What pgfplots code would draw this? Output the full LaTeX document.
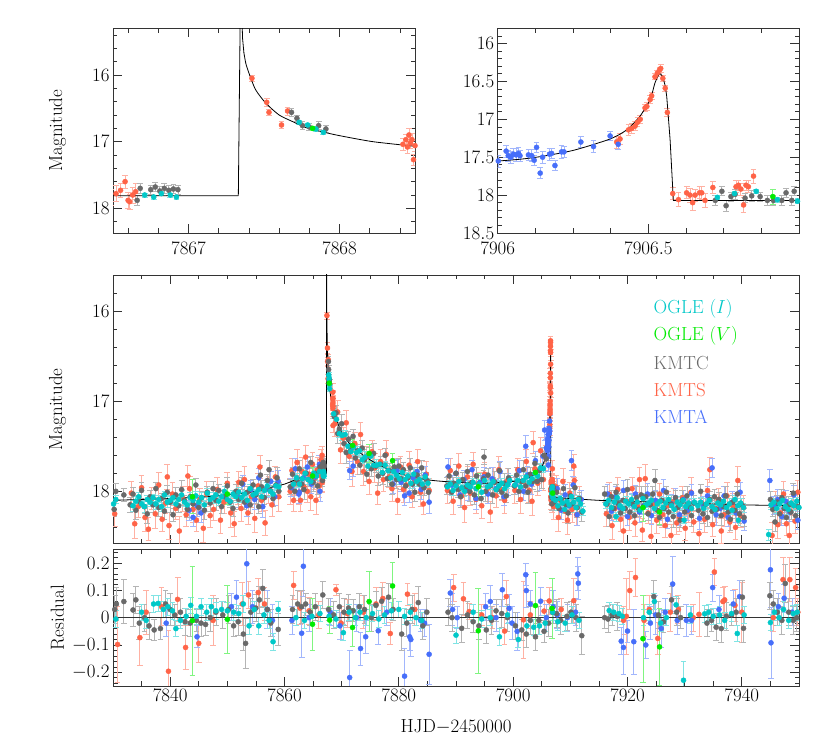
\RequirePackage{fix-cm}
\documentclass[border=0pt]{standalone}
\usepackage{pgfplots}
\usepackage{pgfplotstable}
\pgfplotsset{compat=1.18}

\definecolor{ogleI}{RGB}{0,200,200}
\definecolor{ogleV}{RGB}{0,235,0}
\definecolor{kmtc}{RGB}{105,105,105}
\definecolor{kmts}{RGB}{255,99,71}
\definecolor{kmta}{RGB}{70,110,250}
\colorlet{ebc}{black}

\pgfplotsset{
  lcframe/.style={scale only axis, clip mode=global,
    axis line style={black!80,line width=0.8bp},
    tick style={black!80,line width=0.7bp},
    major tick length=9bp, minor tick length=4.5bp,
    tick align=inside, xtick pos=both, ytick pos=both,
    tick label style={font=\fontsize{19}{22}\selectfont},
    label style={font=\fontsize{19}{22}\selectfont},
    scaled ticks=false, /pgf/number format/1000 sep={}},
  % light error bars: a plain line with a small cap, no nodes
  error bars/draw error bar/.code 2 args={%
    \draw[color=ebc, line width=0.8bp] #1 -- #2 ++(-2.9bp,0) -- ++(5.8bp,0);},
  dat/.style={only marks, mark=*, mark size=2.55bp, color=#1,
    /utils/exec={\colorlet{ebc}{#1!50!white}},
    error bars/y dir=both, error bars/y explicit},
  mdl/.style={black, line width=0.8bp, no markers},
}

% model light curve
\pgfplotstableread{
x y
7830 18.10
7835 18.09
7840 18.08
7845 18.065
7850 18.04
7855 18.00
7858 17.95
7860 17.92
7862 17.87
7863.5 17.83
7865 17.80
7866 17.80
7866.5 17.81
7867.33 17.81
}\mA
\pgfplotstableread{
x y
7867.33 17.81
7867.343 15.0
7867.352 15.0
7867.358 15.45
7867.367 15.67
}\mB
\pgfplotstableread{
x y
7867.367 15.67
7867.38 15.83
7867.40 15.97
7867.444 16.22
7867.511 16.42
7867.6 16.60
7867.7 16.71
7867.778 16.79
7867.9 16.86
7868 16.91
7868.22 17.00
7868.5 17.07
7869 17.19
7870 17.35
7871 17.44
7872 17.51
7874 17.61
7876 17.69
7878 17.75
7880 17.80
7883 17.85
7886 17.88
7890 17.90
7895 17.91
7898 17.90
7900 17.89
7902 17.86
7903 17.84
7904 17.80
7905 17.73
7905.5 17.65
7906 17.55
7906.129 17.50
7906.251 17.41
7906.373 17.26
7906.428 17.14
7906.472 16.96
7906.506 16.74
7906.522 16.52
7906.537 16.40
7906.548 16.44
}\mC
\pgfplotstableread{
x y
7906.548 16.44
7906.556 16.56
7906.561 16.70
7906.572 17.26
7906.583 18.07
}\mD
\pgfplotstableread{
x y
7906.583 18.07
7907 18.07
7910 18.08
7915 18.10
7920 18.11
7925 18.12
7930 18.13
7940 18.15
7950 18.16
}\mE

% KMTC
\pgfplotstableread{
x y e
7830.2 18.20 0.08
7830.5 18.00 0.09
7831.9 18.04 0.07
7833.0 18.15 0.08
7833.5 18.03 0.07
7834.0 18.21 0.10
7834.5 18.11 0.06
7835.0 17.99 0.09
7835.5 18.17 0.08
7836.0 18.25 0.11
7836.5 18.06 0.07
7837.0 18.15 0.08
7837.5 17.97 0.07
7838.0 18.18 0.10
7838.5 18.08 0.06
7839.0 18.22 0.09
7839.5 18.01 0.08
7840.0 18.12 0.11
7840.5 18.26 0.07
7841.0 18.04 0.08
7841.5 18.16 0.07
7842.0 17.98 0.10
7842.5 18.10 0.06
7843.0 18.20 0.09
7843.5 18.06 0.08
7844.0 18.14 0.11
7844.5 17.93 0.07
7845.0 18.18 0.08
7845.5 18.07 0.07
7846.0 18.21 0.10
7846.5 18.01 0.06
7847.0 18.13 0.09
7847.5 17.97 0.08
7848.0 18.10 0.11
7848.5 17.99 0.07
7849.0 18.17 0.08
7849.5 18.06 0.07
7850.0 17.94 0.10
7850.5 18.12 0.06
7851.0 18.19 0.09
7851.5 18.00 0.08
7852.0 18.09 0.11
7852.5 17.91 0.07
7853.0 18.12 0.08
7853.5 18.01 0.07
7854.0 18.15 0.10
7854.5 17.93 0.06
7855.0 18.04 0.09
7855.5 18.17 0.08
7855.8 17.82 0.11
7856.0 17.95 0.07
7856.5 18.07 0.08
7857.0 17.88 0.07
7857.3 17.76 0.10
7857.5 17.99 0.06
7858.0 18.08 0.09
7858.5 17.93 0.08
7858.7 17.85 0.11
7859.0 18.00 0.07
7861.0 17.95 0.08
7861.4 17.81 0.07
7861.8 18.00 0.10
7862.2 17.88 0.06
7862.6 17.75 0.09
7863.0 17.92 0.08
7863.4 17.98 0.11
7863.8 17.80 0.07
7864.2 17.87 0.08
7864.6 17.68 0.07
7865.0 17.90 0.10
7865.4 17.80 0.06
7865.8 17.94 0.09
7866.2 17.73 0.08
7866.66 17.88 0.07
7866.68 17.70 0.07
7866.75 17.72 0.07
7866.78 17.68 0.07
7866.81 17.74 0.07
7866.84 17.70 0.07
7866.87 17.73 0.07
7866.90 17.71 0.07
7866.93 17.72 0.07
7867.682 16.56 0.06
7867.718 16.65 0.05
7867.755 16.76 0.06
7867.800 16.78 0.05
7867.862 16.76 0.06
7867.910 16.81 0.05
7868.7 17.17 0.09
7869.0 17.13 0.08
7869.3 17.36 0.11
7869.6 17.31 0.07
7870.0 17.25 0.10
7870.4 17.47 0.09
7870.8 17.57 0.12
7871.2 17.42 0.08
7871.6 17.54 0.09
7872.0 17.39 0.08
7872.4 17.63 0.11
7872.8 17.55 0.07
7873.2 17.71 0.10
7873.6 17.52 0.09
7874.0 17.65 0.12
7874.4 17.81 0.08
7874.8 17.60 0.09
7875.2 17.75 0.08
7875.6 17.58 0.11
7876.0 17.72 0.07
7876.4 17.83 0.10
7876.8 17.70 0.09
7877.2 17.80 0.12
7877.6 17.60 0.08
7878.0 17.86 0.09
7878.4 17.77 0.08
7878.8 17.92 0.11
7879.2 17.73 0.07
7879.6 17.87 0.10
7880.0 17.72 0.09
7880.4 17.86 0.12
7880.8 17.76 0.08
7881.2 17.94 0.09
7881.6 17.85 0.08
7882.0 17.74 0.11
7882.4 17.92 0.07
7882.8 18.01 0.10
7883.2 17.82 0.09
7883.6 17.92 0.12
7884.0 17.74 0.08
7884.4 17.96 0.09
7884.8 17.87 0.08
7885.2 18.01 0.11
7888.4 17.94 0.09
7888.8 17.83 0.08
7889.2 18.01 0.11
7889.6 17.91 0.07
7890.0 17.80 0.10
7890.4 17.98 0.09
7890.8 18.06 0.12
7891.2 17.87 0.08
7891.6 17.96 0.09
7892.0 17.78 0.08
7892.4 18.00 0.11
7892.8 17.90 0.07
7893.2 18.04 0.10
7893.6 17.83 0.09
7894.0 17.94 0.12
7894.4 18.08 0.08
7894.8 17.86 0.09
7894.9 17.62 0.08
7895.2 18.00 0.11
7895.6 17.82 0.07
7896.0 17.94 0.10
7896.4 18.04 0.09
7896.8 17.90 0.12
7897.2 17.98 0.08
7897.6 17.77 0.09
7898.0 18.01 0.08
7898.4 17.91 0.11
7898.8 18.05 0.07
7899.2 17.85 0.10
7900.2 17.94 0.09
7900.6 17.82 0.08
7901.0 18.00 0.11
7901.4 17.89 0.07
7901.8 17.76 0.10
7902.2 17.94 0.09
7902.6 18.01 0.12
7903.0 17.81 0.08
7903.4 17.89 0.09
7903.8 17.69 0.08
7904.2 17.89 0.11
7904.6 17.77 0.07
7905.0 17.87 0.10
7905.4 17.60 0.09
7905.8 17.64 0.08
7906.722 18.07 0.07
7906.744 17.95 0.06
7906.758 18.14 0.07
7906.774 18.02 0.06
7906.788 17.99 0.07
7906.821 18.04 0.06
7906.843 18.01 0.07
7906.871 18.02 0.06
7906.895 18.07 0.07
7906.915 18.07 0.06
7906.943 18.07 0.07
7906.957 17.97 0.06
7906.976 18.07 0.07
7906.984 17.95 0.06
7907.2 18.12 0.09
7907.6 18.01 0.08
7908.0 18.19 0.11
7908.4 18.09 0.07
7908.8 17.97 0.10
7909.2 18.15 0.09
7909.6 18.24 0.12
7910.0 18.05 0.08
7910.4 18.14 0.09
7910.8 17.96 0.08
7911.2 18.18 0.11
7911.6 18.08 0.07
7912.0 18.23 0.10
7916.0 18.03 0.09
7916.4 18.14 0.08
7916.8 18.28 0.11
7917.2 18.06 0.07
7917.6 18.19 0.10
7918.0 18.01 0.09
7918.4 18.14 0.12
7918.8 18.24 0.08
7919.2 18.10 0.09
7919.6 18.19 0.08
7920.0 17.98 0.11
7920.4 18.23 0.07
7920.8 18.13 0.10
7921.2 18.27 0.09
7921.6 18.07 0.12
7922.0 18.20 0.08
7922.4 18.04 0.09
7922.8 18.17 0.08
7923.2 18.06 0.11
7923.6 18.25 0.07
7924.0 18.15 0.10
7924.4 18.03 0.09
7924.8 17.88 0.12
7925.2 18.21 0.08
7925.6 18.29 0.09
7926.0 18.10 0.08
7926.4 18.19 0.11
7926.8 18.01 0.07
7927.2 18.23 0.10
7927.6 18.14 0.09
7928.0 18.28 0.12
7928.4 18.07 0.08
7928.8 18.18 0.09
7929.2 18.32 0.08
7929.6 18.10 0.11
7930.0 18.23 0.07
7930.4 18.05 0.10
7930.8 18.17 0.09
7931.2 18.27 0.12
7931.6 18.13 0.08
7932.4 18.21 0.09
7932.8 18.00 0.08
7933.2 18.25 0.11
7933.6 18.15 0.07
7934.0 18.29 0.10
7934.4 18.09 0.09
7934.8 18.22 0.12
7935.2 18.06 0.08
7935.6 18.20 0.09
7936.0 18.09 0.08
7936.4 18.27 0.11
7936.8 18.17 0.07
7937.2 18.05 0.10
7937.6 18.23 0.09
7938.0 18.31 0.12
7938.4 18.12 0.08
7938.8 18.21 0.09
7939.2 18.03 0.08
7939.6 18.25 0.11
7940.0 18.15 0.07
7940.4 18.29 0.10
7945.0 18.09 0.09
7945.4 18.20 0.08
7945.8 18.34 0.11
7946.2 18.12 0.07
7946.6 18.25 0.10
7947.0 18.07 0.09
7947.4 18.19 0.12
7947.8 18.29 0.08
7948.2 18.15 0.09
7948.6 18.23 0.08
7949.0 18.02 0.11
7949.4 18.27 0.07
7949.8 18.17 0.10
}\kmtcdat

% KMTS
\pgfplotstableread{
x y e
7830.3 18.25 0.14
7833.2 18.02 0.13
7833.8 18.36 0.16
7834.4 18.17 0.12
7835.0 17.96 0.14
7835.6 18.29 0.15
7836.2 18.42 0.13
7836.8 18.08 0.12
7837.4 18.25 0.16
7838.0 17.93 0.14
7838.6 18.31 0.13
7839.2 18.13 0.12
7839.5 17.84 0.14
7839.8 18.38 0.15
7840.4 18.03 0.13
7841.0 18.19 0.12
7841.6 18.44 0.16
7842.2 18.08 0.14
7842.8 18.26 0.13
7843.1 17.83 0.12
7843.4 17.97 0.14
7844.0 18.20 0.15
7844.6 18.32 0.13
7845.2 18.09 0.12
7845.8 18.41 0.16
7846.4 18.03 0.14
7847.0 18.27 0.13
7847.6 18.20 0.12
7848.2 17.98 0.14
7848.8 18.32 0.15
7849.4 18.12 0.13
7850.0 17.91 0.12
7850.6 18.24 0.16
7851.2 18.36 0.14
7851.8 18.02 0.13
7852.0 17.90 0.12
7852.4 18.19 0.14
7853.0 17.87 0.15
7853.6 18.24 0.13
7854.2 18.06 0.12
7854.8 18.30 0.16
7855.4 17.94 0.14
7855.7 17.73 0.13
7856.0 18.10 0.12
7856.6 18.35 0.14
7857.2 17.98 0.15
7857.8 18.15 0.13
7858.4 17.84 0.12
7859.0 18.06 0.16
7861.0 18.00 0.14
7861.3 17.77 0.13
7861.6 18.10 0.12
7861.9 17.91 0.14
7862.2 17.68 0.15
7862.5 18.01 0.13
7862.8 18.10 0.12
7863.1 17.78 0.16
7863.4 17.95 0.14
7863.7 17.62 0.13
7864.0 18.00 0.12
7864.3 17.81 0.14
7864.6 18.06 0.15
7864.9 17.70 0.13
7865.2 17.86 0.12
7865.5 18.10 0.16
7865.8 17.76 0.14
7866.1 17.94 0.13
7866.4 17.65 0.12
7866.49 17.83 0.12
7866.52 17.78 0.12
7866.55 17.73 0.11
7866.58 17.60 0.10
7866.60 17.88 0.12
7866.61 17.90 0.11
7866.63 17.80 0.12
7866.65 17.75 0.12
7867.420 16.05 0.04
7867.518 16.41 0.06
7867.533 16.56 0.05
7867.616 16.75 0.05
7867.656 16.54 0.06
7868.42 17.04 0.09
7868.44 16.97 0.08
7868.45 17.08 0.09
7868.46 16.90 0.10
7868.47 17.02 0.08
7868.48 16.97 0.09
7868.49 17.27 0.08
7868.50 17.06 0.09
7868.8 17.25 0.14
7869.3 17.12 0.13
7869.8 17.54 0.15
7870.3 17.41 0.12
7870.8 17.24 0.14
7871.3 17.61 0.13
7871.8 17.78 0.16
7872.3 17.47 0.12
7872.8 17.67 0.14
7873.3 17.37 0.13
7873.8 17.78 0.15
7874.3 17.62 0.12
7874.8 17.89 0.14
7875.3 17.56 0.13
7875.8 17.74 0.16
7876.3 18.02 0.12
7876.8 17.67 0.14
7877.3 17.87 0.13
7877.8 17.59 0.15
7878.3 17.84 0.12
7878.8 17.97 0.14
7879.3 17.76 0.13
7879.8 18.10 0.16
7880.3 17.73 0.12
7880.8 17.98 0.14
7881.3 17.93 0.13
7881.8 17.71 0.15
7882.3 18.06 0.12
7882.8 17.88 0.14
7883.3 17.67 0.13
7883.8 18.01 0.16
7884.3 18.14 0.12
7884.8 17.81 0.14
7885.3 17.99 0.13
7888.5 17.99 0.14
7889.0 17.77 0.13
7889.5 18.11 0.15
7890.0 17.93 0.12
7890.5 17.72 0.14
7891.0 18.05 0.13
7891.5 18.18 0.16
7892.0 17.84 0.12
7892.5 18.02 0.14
7893.0 17.70 0.13
7893.5 18.09 0.15
7894.0 17.91 0.12
7894.5 18.16 0.14
7895.0 17.81 0.13
7895.5 17.97 0.16
7896.0 18.23 0.12
7896.5 17.87 0.14
7897.0 18.05 0.13
7897.5 17.76 0.15
7898.0 17.98 0.12
7898.5 18.10 0.14
7899.0 17.88 0.13
7900.3 17.99 0.14
7900.8 17.76 0.13
7901.3 18.09 0.15
7901.8 17.89 0.12
7902.3 17.67 0.14
7902.8 17.99 0.13
7903.3 18.11 0.16
7903.5 17.46 0.12
7903.8 17.75 0.14
7904.3 17.91 0.13
7904.8 17.55 0.15
7905.3 17.87 0.12
7905.7 17.63 0.14
7906.395 17.30 0.08
7906.406 17.26 0.07
7906.434 17.14 0.07
7906.445 17.12 0.06
7906.456 17.09 0.06
7906.464 17.04 0.06
7906.473 17.00 0.05
7906.489 16.85 0.05
7906.495 16.83 0.05
7906.506 16.74 0.05
7906.511 16.69 0.05
7906.522 16.44 0.04
7906.530 16.39 0.04
7906.537 16.35 0.04
7906.541 16.33 0.05
7906.548 16.46 0.04
7906.556 16.59 0.04
7906.563 16.91 0.05
7906.581 17.98 0.08
7906.600 18.06 0.09
7906.627 17.97 0.08
7906.638 18.00 0.09
7906.647 18.10 0.10
7906.655 18.00 0.08
7906.670 17.97 0.08
7906.677 17.97 0.09
7906.688 18.07 0.09
7906.714 17.90 0.08
7906.791 17.89 0.08
7906.799 17.87 0.07
7906.807 17.92 0.08
7906.816 18.13 0.10
7906.824 17.87 0.07
7906.832 17.89 0.08
7906.849 17.75 0.09
7907.1 18.17 0.14
7907.5 17.95 0.13
7907.9 18.29 0.15
7908.3 18.10 0.12
7908.7 17.89 0.14
7909.1 18.22 0.13
7909.5 18.32 0.16
7909.9 18.02 0.12
7910.3 18.20 0.14
7910.6 17.72 0.13
7910.7 17.88 0.15
7911.1 18.26 0.12
7911.5 18.08 0.14
7916.3 18.25 0.14
7916.8 18.03 0.13
7917.3 18.38 0.15
7917.8 18.19 0.12
7918.3 17.98 0.14
7918.8 18.31 0.13
7919.3 18.44 0.16
7919.8 18.11 0.12
7920.3 18.29 0.14
7920.8 17.97 0.13
7921.3 18.35 0.15
7921.8 18.17 0.12
7922.1 17.87 0.14
7922.6 18.43 0.13
7923.1 17.86 0.16
7923.6 18.24 0.12
7924.1 18.50 0.14
7924.6 18.14 0.13
7925.1 18.32 0.15
7925.6 18.03 0.12
7926.1 18.26 0.14
7926.6 18.38 0.13
7927.1 18.16 0.16
7927.6 18.49 0.12
7928.1 18.11 0.14
7928.6 18.35 0.13
7929.1 18.29 0.15
7929.6 18.07 0.12
7930.1 18.41 0.14
7930.6 18.22 0.13
7931.1 18.01 0.16
7931.6 18.34 0.12
7932.5 18.47 0.14
7933.0 18.13 0.13
7933.5 18.31 0.15
7934.0 17.99 0.12
7934.4 17.76 0.14
7934.9 18.37 0.13
7935.4 18.19 0.16
7935.9 18.09 0.12
7936.4 18.44 0.14
7936.9 18.26 0.13
7937.4 18.05 0.15
7937.9 18.34 0.12
7938.4 18.16 0.14
7938.9 18.40 0.13
7939.3 17.88 0.16
7939.8 18.28 0.12
7940.3 18.18 0.14
7945.3 18.49 0.14
7945.8 18.13 0.13
7946.3 18.37 0.15
7946.8 18.24 0.12
7947.3 18.03 0.14
7947.8 18.36 0.13
7948.3 18.49 0.16
7948.8 18.15 0.12
7949.3 18.33 0.14
7949.8 18.01 0.13
}\kmtsdat

% KMTA
\pgfplotstableread{
x y e
7843.3 18.21 0.11
7844.0 18.29 0.10
7844.7 18.16 0.12
7845.4 18.24 0.10
7852.0 18.07 0.11
7852.7 17.92 0.10
7853.4 18.16 0.12
7854.1 17.98 0.10
7854.8 18.09 0.11
7855.5 17.85 0.10
7856.2 18.17 0.12
7856.9 17.97 0.10
7857.6 17.89 0.11
7858.3 18.06 0.10
7858.9 17.89 0.12
7861.2 17.96 0.10
7861.9 17.75 0.11
7862.5 18.03 0.10
7862.6 18.01 0.12
7863.3 17.85 0.10
7864.0 17.73 0.11
7864.7 17.92 0.10
7865.4 17.84 0.12
7866.1 17.70 0.10
7866.2 18.00 0.11
7871.4 17.77 0.10
7872.0 17.72 0.11
7879.0 17.92 0.10
7879.7 17.77 0.12
7880.4 17.90 0.10
7881.0 18.05 0.11
7881.8 18.02 0.10
7882.5 17.85 0.12
7883.2 17.78 0.10
7883.9 17.98 0.11
7884.6 17.82 0.10
7885.3 18.12 0.12
7888.6 17.73 0.10
7889.3 17.93 0.11
7890.0 17.80 0.10
7890.7 18.04 0.12
7891.4 17.87 0.10
7892.1 17.99 0.11
7892.8 17.76 0.10
7893.5 18.08 0.12
7894.2 17.90 0.10
7894.9 17.84 0.11
7895.6 18.03 0.10
7896.3 17.86 0.12
7897.0 17.97 0.10
7897.7 17.78 0.11
7898.4 18.06 0.10
7899.1 17.92 0.12
7900.4 17.93 0.10
7901.1 17.77 0.11
7901.8 18.00 0.10
7902.2 17.50 0.12
7902.5 17.82 0.10
7903.2 17.92 0.11
7903.9 17.66 0.10
7904.6 17.87 0.12
7905.2 17.61 0.10
7905.5 17.32 0.11
7905.8 17.52 0.10
7906.002 17.55 0.08
7906.028 17.42 0.08
7906.035 17.48 0.07
7906.043 17.50 0.08
7906.052 17.46 0.07
7906.061 17.47 0.08
7906.069 17.45 0.08
7906.074 17.48 0.07
7906.102 17.47 0.07
7906.113 17.48 0.08
7906.121 17.54 0.07
7906.129 17.37 0.07
7906.141 17.71 0.07
7906.149 17.50 0.08
7906.172 17.46 0.08
7906.179 17.45 0.07
7906.190 17.61 0.07
7906.212 17.43 0.08
7906.220 17.43 0.07
7906.276 17.30 0.07
7906.318 17.36 0.08
7906.373 17.22 0.06
7906.400 17.33 0.07
7907.1 18.11 0.10
7907.7 17.97 0.11
7908.4 18.21 0.10
7909.1 18.04 0.12
7909.8 18.16 0.10
7910.2 17.66 0.11
7910.5 17.93 0.10
7911.2 18.26 0.12
7911.9 18.09 0.10
7916.5 18.03 0.11
7917.2 18.22 0.10
7917.9 18.06 0.12
7918.6 18.18 0.10
7919.3 17.99 0.11
7920.0 18.28 0.10
7920.7 18.14 0.12
7921.4 18.03 0.10
7922.1 18.23 0.11
7922.8 18.16 0.10
7923.5 18.03 0.12
7924.2 18.27 0.10
7924.9 18.10 0.11
7925.6 18.22 0.10
7926.3 17.99 0.12
7927.0 18.31 0.10
7927.7 18.14 0.11
7928.4 18.07 0.10
7929.1 18.26 0.12
7929.8 18.09 0.10
7930.5 18.21 0.11
7931.2 18.02 0.10
7932.6 18.30 0.12
7933.3 18.16 0.10
7934.0 18.05 0.11
7934.8 17.74 0.10
7935.5 18.26 0.12
7936.2 18.19 0.10
7936.9 18.05 0.11
7937.6 18.29 0.10
7938.3 18.12 0.12
7939.0 18.24 0.10
7939.7 18.01 0.11
7940.4 18.33 0.10
7944.9 17.88 0.12
7945.6 18.16 0.10
7946.3 18.09 0.11
7947.0 18.28 0.10
7947.7 18.11 0.12
7948.4 18.23 0.10
7949.1 18.04 0.11
7949.8 18.32 0.10
}\kmtadat

% OGLE I
\pgfplotstableread{
x y e
7830.1 18.14 0.05
7830.5 18.09 0.04
7833.5 18.16 0.06
7834.0 18.11 0.05
7834.5 18.06 0.05
7835.0 18.14 0.04
7835.5 18.17 0.06
7836.0 18.09 0.05
7836.5 18.12 0.05
7837.0 18.07 0.04
7837.5 18.14 0.06
7838.0 18.09 0.05
7838.5 18.17 0.05
7839.0 18.04 0.04
7839.5 18.12 0.06
7840.0 18.10 0.05
7840.5 18.07 0.05
7841.0 18.14 0.04
7841.5 18.09 0.06
7842.0 18.04 0.05
7842.5 18.12 0.05
7843.0 18.15 0.04
7843.5 18.07 0.06
7844.0 18.10 0.05
7844.5 18.05 0.05
7845.0 18.12 0.04
7845.5 18.07 0.06
7846.0 18.15 0.05
7846.5 18.02 0.05
7847.0 18.09 0.04
7847.5 18.07 0.06
7848.0 18.04 0.05
7848.5 18.11 0.05
7849.0 18.06 0.04
7849.5 18.00 0.06
7850.0 18.09 0.05
7850.5 18.11 0.05
7851.0 18.03 0.04
7851.5 18.06 0.06
7852.0 18.01 0.05
7852.5 18.07 0.05
7853.0 18.03 0.04
7853.5 18.10 0.06
7854.0 17.97 0.05
7854.5 18.04 0.05
7855.0 18.02 0.04
7855.5 17.98 0.06
7856.0 18.06 0.05
7856.5 17.99 0.05
7857.0 17.94 0.04
7857.5 18.00 0.06
7858.0 18.03 0.05
7858.5 17.94 0.05
7859.0 17.95 0.04
7861.6 17.92 0.05
7862.1 17.85 0.05
7862.6 17.92 0.04
7863.1 17.86 0.06
7863.6 17.80 0.05
7864.1 17.87 0.05
7864.6 17.89 0.04
7865.1 17.80 0.06
7865.6 17.83 0.05
7866.1 17.78 0.05
7866.71 17.80 0.03
7866.77 17.83 0.03
7866.82 17.78 0.03
7866.88 17.80 0.03
7866.92 17.83 0.03
7867.733 16.71 0.03
7867.789 16.75 0.03
7867.844 16.81 0.03
7867.893 16.86 0.03
7868.6 17.14 0.05
7869.1 17.20 0.05
7869.6 17.36 0.04
7870.1 17.38 0.06
7870.6 17.37 0.05
7871.1 17.50 0.05
7871.6 17.56 0.04
7872.1 17.51 0.06
7872.6 17.57 0.05
7873.1 17.55 0.05
7873.6 17.65 0.04
7874.1 17.62 0.06
7874.6 17.72 0.05
7875.1 17.61 0.05
7875.6 17.71 0.04
7876.1 17.71 0.06
7876.6 17.70 0.05
7877.1 17.79 0.05
7877.6 17.71 0.04
7878.1 17.77 0.06
7878.6 17.85 0.05
7879.1 17.78 0.05
7879.6 17.82 0.04
7880.1 17.86 0.06
7880.6 17.79 0.05
7881.1 17.87 0.05
7881.6 17.83 0.04
7882.1 17.91 0.06
7882.6 17.81 0.05
7883.1 17.89 0.05
7883.6 17.87 0.04
7884.1 17.92 0.06
7884.6 17.84 0.05
7885.1 17.91 0.05
7888.5 17.95 0.05
7889.0 17.92 0.04
7889.5 17.99 0.06
7890.0 17.94 0.05
7890.5 17.89 0.05
7891.0 17.96 0.04
7891.5 18.00 0.06
7892.0 17.93 0.05
7892.5 17.95 0.05
7893.0 17.90 0.04
7893.5 17.97 0.06
7894.0 17.92 0.05
7894.5 18.01 0.05
7895.0 17.88 0.04
7895.5 17.95 0.06
7896.0 17.93 0.05
7896.5 17.89 0.05
7897.0 17.98 0.04
7897.5 17.94 0.06
7898.0 17.91 0.05
7898.5 17.97 0.05
7899.0 17.93 0.04
7899.4 17.88 0.06
7900.3 17.93 0.05
7900.8 17.88 0.05
7901.3 17.95 0.04
7901.8 17.88 0.06
7902.3 17.84 0.05
7902.8 17.90 0.05
7903.3 17.86 0.04
7903.8 17.80 0.06
7904.3 17.83 0.05
7904.8 17.74 0.05
7905.3 17.75 0.04
7906.729 18.03 0.03
7906.786 17.98 0.03
7906.858 17.95 0.03
7906.928 18.06 0.03
7906.995 18.08 0.03
7907.4 18.10 0.05
7907.8 18.16 0.05
7908.2 18.08 0.04
7908.6 18.13 0.06
7909.0 18.20 0.05
7909.4 18.11 0.05
7909.8 18.15 0.04
7910.2 18.06 0.06
7910.6 18.12 0.05
7911.0 18.18 0.05
7911.4 18.09 0.04
7911.8 18.14 0.06
7912.2 18.22 0.05
7916.2 18.14 0.05
7916.7 18.10 0.04
7917.2 18.18 0.06
7917.7 18.12 0.05
7918.0 18.28 0.05
7918.2 18.07 0.04
7918.7 18.16 0.06
7919.2 18.19 0.05
7919.7 18.11 0.05
7920.2 18.14 0.04
7920.7 18.09 0.06
7921.2 18.17 0.05
7921.7 18.12 0.05
7922.2 18.21 0.04
7922.7 18.08 0.06
7923.2 18.15 0.05
7923.7 18.13 0.05
7924.2 18.10 0.04
7924.7 18.19 0.06
7925.2 18.14 0.05
7925.7 18.11 0.05
7926.2 18.18 0.04
7926.7 18.13 0.06
7927.2 18.09 0.05
7927.7 18.16 0.05
7928.2 18.20 0.04
7928.7 18.12 0.06
7929.2 18.15 0.05
7929.7 18.10 0.05
7929.9 18.32 0.04
7930.2 18.17 0.06
7930.7 18.13 0.05
7931.2 18.19 0.05
7931.7 18.12 0.04
7932.3 18.16 0.05
7932.8 18.12 0.05
7933.3 18.19 0.04
7933.8 18.14 0.06
7934.3 18.10 0.05
7934.8 18.17 0.05
7935.3 18.20 0.04
7935.8 18.13 0.06
7936.3 18.15 0.05
7936.8 18.11 0.05
7937.3 18.18 0.04
7937.8 18.14 0.06
7938.3 18.21 0.05
7938.8 18.09 0.05
7939.3 18.16 0.04
7939.4 18.32 0.06
7939.8 18.13 0.05
7940.3 18.18 0.05
7944.7 18.48 0.06
7945.1 18.15 0.05
7945.6 18.12 0.04
7946.1 18.19 0.06
7946.6 18.14 0.05
7947.1 18.10 0.05
7947.6 18.17 0.04
7948.1 18.20 0.06
7948.6 18.13 0.05
7949.1 18.16 0.05
7949.6 18.11 0.04
7950.0 18.18 0.06
}\ogleIdat

% OGLE V
\pgfplotstableread{
x y e
7843.9 18.06 0.19
7850.0 18.03 0.12
7864.9 17.83 0.09
7867.822 16.80 0.03
7871.9 17.49 0.07
7874.8 17.58 0.10
7878.9 17.66 0.08
7893.9 17.95 0.15
7903.9 17.79 0.12
7906.913 18.02 0.10
7922.7 18.18 0.15
7925.6 18.23 0.14
}\ogleVdat

% residuals
\pgfplotstableread{
x y e
7830.8 -0.098 0.14
7834.7 -0.073 0.10
7835.8 0.020 0.08
7838.5 0.040 0.07
7839.7 -0.196 0.15
7841.3 0.067 0.08
7842.7 -0.109 0.08
7845.0 -0.094 0.07
7847.5 -0.010 0.09
7852.6 0.050 0.08
7853.7 0.083 0.05
7855.4 0.092 0.05
7856.5 0.050 0.06
7861.6 0.118 0.05
7862.7 0.035 0.06
7864.3 0.025 0.05
7866.0 0.010 0.05
7869.0 0.102 0.02
7869.9 -0.020 0.06
7871.0 0.015 0.05
7873.8 0.020 0.06
7876.0 0.050 0.06
7877.2 0.070 0.06
7878.5 -0.058 0.04
7881.5 0.086 0.04
7882.8 0.030 0.06
7889.6 0.110 0.05
7891.3 0.069 0.06
7892.3 0.022 0.03
7894.5 0.010 0.04
7896.4 0.000 0.04
7898.5 -0.049 0.05
7898.8 0.077 0.06
7901.8 -0.008 0.14
7903.0 0.010 0.05
7905.4 0.024 0.04
7906.3 0.061 0.05
7908.4 0.030 0.04
7910.6 0.062 0.08
7919.3 -0.010 0.05
7919.8 0.005 0.14
7920.4 0.099 0.07
7921.4 0.147 0.07
7922.9 -0.010 0.06
7923.8 0.030 0.05
7925.3 -0.076 0.06
7927.5 0.020 0.07
7928.9 0.030 0.05
7931.5 0.000 0.05
7932.5 0.012 0.08
7935.2 0.167 0.05
7936.7 0.059 0.05
7937.0 0.065 0.05
7938.8 0.045 0.06
7940.0 0.020 0.11
7945.5 0.000 0.05
7947.2 0.139 0.08
7948.4 0.139 0.08
7949.4 0.110 0.07
7949.8 0.020 0.05
}\rkmts
\pgfplotstableread{
x y e
7839.3 -0.020 0.05
7844.7 -0.070 0.04
7850.7 0.040 0.05
7851.6 0.075 0.06
7853.4 0.197 0.11
7854.4 0.040 0.06
7857.0 0.030 0.07
7857.9 -0.010 0.06
7861.3 -0.010 0.05
7863.0 -0.057 0.09
7863.3 0.188 0.11
7864.3 0.000 0.05
7868.0 0.020 0.05
7869.7 -0.030 0.05
7871.4 -0.219 0.10
7872.6 0.000 0.05
7873.3 -0.113 0.06
7874.2 -0.070 0.06
7876.4 -0.048 0.05
7877.9 0.020 0.05
7881.0 -0.214 0.10
7881.9 -0.070 0.05
7882.1 -0.080 0.06
7883.8 -0.010 0.04
7884.5 -0.020 0.05
7885.3 -0.134 0.11
7889.0 0.090 0.05
7889.4 0.030 0.06
7890.2 0.000 0.04
7895.2 0.040 0.05
7896.0 0.059 0.06
7897.0 0.000 0.05
7898.1 0.102 0.06
7899.3 0.034 0.05
7899.8 -0.020 0.06
7900.7 -0.050 0.07
7902.2 0.157 0.04
7902.3 0.099 0.06
7903.0 0.050 0.05
7904.8 0.060 0.05
7905.8 0.000 0.05
7907.0 0.040 0.06
7907.7 0.010 0.05
7909.5 0.000 0.05
7910.9 0.020 0.05
7911.3 0.160 0.06
7911.4 0.126 0.06
7918.9 -0.086 0.05
7919.3 -0.109 0.10
7920.0 -0.049 0.04
7921.1 -0.088 0.12
7923.2 -0.100 0.05
7924.0 -0.020 0.06
7924.9 0.010 0.07
7925.9 -0.040 0.07
7926.6 0.020 0.05
7927.9 0.123 0.10
7928.7 -0.010 0.05
7930.3 -0.010 0.06
7931.2 -0.010 0.05
7934.9 0.110 0.05
7936.0 0.030 0.05
7938.5 0.050 0.05
7939.6 0.077 0.06
7945.0 0.175 0.10
7945.1 -0.092 0.13
7946.4 0.040 0.05
7947.4 0.071 0.05
7948.8 0.020 0.05
}\rkmta
\pgfplotstableread{
x y e
7830.3 0.030 0.05
7830.6 0.050 0.06
7831.9 0.059 0.08
7833.5 0.028 0.06
7834.0 0.065 0.05
7834.6 -0.020 0.06
7835.5 0.000 0.05
7836.3 -0.030 0.05
7837.2 -0.045 0.04
7838.3 -0.040 0.04
7839.2 0.050 0.05
7840.0 0.030 0.06
7840.8 0.010 0.04
7841.8 0.020 0.05
7842.6 -0.015 0.05
7843.5 -0.020 0.05
7844.6 -0.010 0.04
7845.4 -0.020 0.05
7846.2 -0.025 0.04
7847.0 0.000 0.05
7848.0 0.020 0.05
7849.2 0.010 0.05
7850.2 0.030 0.05
7851.1 -0.030 0.04
7851.9 -0.015 0.05
7852.8 -0.060 0.06
7853.2 -0.094 0.09
7854.1 0.020 0.05
7855.0 0.035 0.05
7855.6 0.065 0.05
7856.2 0.107 0.07
7857.0 0.030 0.04
7857.6 -0.020 0.05
7858.9 -0.043 0.06
7861.4 0.030 0.05
7862.3 0.050 0.05
7863.0 0.040 0.06
7863.7 0.050 0.04
7864.5 0.020 0.05
7865.4 0.040 0.05
7866.7 0.083 0.05
7867.7 0.030 0.04
7868.6 0.010 0.05
7869.6 0.040 0.05
7870.4 0.020 0.05
7871.2 0.035 0.05
7872.0 0.025 0.04
7873.1 0.040 0.05
7874.0 0.030 0.05
7875.2 0.000 0.05
7876.0 0.045 0.05
7877.0 0.060 0.05
7878.2 0.075 0.05
7879.0 0.030 0.04
7880.5 -0.060 0.06
7881.4 -0.020 0.05
7882.3 0.030 0.05
7883.4 0.055 0.06
7884.2 -0.030 0.05
7884.9 0.020 0.05
7888.6 0.020 0.05
7889.3 0.000 0.05
7891.0 -0.039 0.05
7892.0 0.010 0.05
7893.0 -0.015 0.04
7894.0 -0.030 0.05
7895.3 -0.045 0.05
7896.2 -0.010 0.05
7897.0 0.025 0.04
7898.0 0.015 0.05
7899.0 0.000 0.05
7900.4 -0.030 0.05
7901.5 -0.045 0.04
7902.3 -0.060 0.05
7903.0 -0.010 0.05
7903.9 -0.070 0.05
7904.5 -0.010 0.05
7905.4 -0.050 0.04
7906.2 -0.020 0.05
7906.9 0.020 0.04
7907.6 0.015 0.05
7908.3 -0.010 0.05
7909.4 0.005 0.05
7910.1 0.020 0.04
7911.0 0.000 0.05
7912.0 -0.066 0.07
7916.0 0.000 0.04
7916.6 -0.005 0.05
7917.3 0.010 0.04
7918.2 0.005 0.05
7924.6 0.077 0.06
7925.4 0.010 0.05
7926.3 -0.015 0.04
7927.7 0.065 0.05
7928.6 0.020 0.05
7929.3 0.000 0.04
7933.9 -0.020 0.05
7934.7 -0.010 0.04
7935.5 -0.035 0.05
7936.4 -0.040 0.05
7937.3 0.005 0.05
7938.2 0.010 0.04
7939.0 0.020 0.05
7940.1 0.075 0.06
7940.3 -0.039 0.05
7944.9 0.080 0.05
7945.5 0.050 0.05
7946.2 0.020 0.05
7947.0 -0.010 0.05
7947.6 0.125 0.07
7948.2 0.020 0.05
7949.0 -0.010 0.05
7949.6 0.000 0.05
}\rkmtc
\pgfplotstableread{
x y e
7830.5 -0.005 0.03
7835.0 0.020 0.03
7835.8 -0.010 0.03
7837.1 0.050 0.03
7837.9 0.052 0.03
7838.8 0.030 0.03
7839.6 0.040 0.03
7840.4 0.025 0.03
7841.0 -0.040 0.03
7841.8 -0.010 0.03
7842.8 0.005 0.03
7843.6 0.045 0.03
7844.6 0.005 0.03
7845.4 0.040 0.03
7846.4 0.020 0.03
7847.2 0.040 0.03
7848.0 0.025 0.03
7849.0 0.030 0.03
7850.0 0.025 0.03
7851.1 0.020 0.03
7852.0 0.015 0.03
7852.8 0.050 0.03
7853.8 -0.030 0.03
7854.7 0.030 0.03
7855.5 -0.030 0.03
7856.4 0.010 0.03
7857.3 -0.010 0.03
7858.0 -0.088 0.03
7858.9 0.030 0.03
7862.0 0.000 0.03
7863.5 -0.010 0.03
7864.8 0.005 0.03
7866.2 0.015 0.03
7867.8 0.005 0.03
7869.0 -0.005 0.03
7870.3 -0.055 0.03
7871.3 0.020 0.03
7872.4 0.000 0.03
7873.2 0.020 0.03
7874.3 0.000 0.03
7875.4 0.015 0.03
7876.5 -0.005 0.03
7877.5 0.010 0.03
7878.7 0.025 0.03
7880.0 0.030 0.03
7881.0 0.005 0.03
7882.0 0.020 0.03
7883.0 0.000 0.03
7884.0 -0.010 0.03
7890.0 -0.064 0.03
7893.0 0.020 0.03
7894.5 -0.005 0.03
7896.0 0.000 0.03
7897.6 -0.070 0.03
7899.0 0.010 0.03
7900.9 -0.080 0.03
7902.4 -0.030 0.03
7903.6 -0.035 0.03
7904.6 -0.030 0.03
7905.6 -0.020 0.03
7906.9 0.020 0.03
7907.8 -0.015 0.03
7909.1 -0.020 0.03
7910.3 0.010 0.03
7911.5 -0.010 0.03
7916.8 0.026 0.03
7917.6 0.020 0.03
7918.5 0.015 0.03
7919.1 0.005 0.03
7922.8 0.000 0.03
7923.8 0.020 0.03
7924.7 0.059 0.03
7925.8 -0.020 0.03
7926.8 0.000 0.03
7928.5 0.047 0.03
7929.8 -0.229 0.07
7931.0 0.010 0.03
7933.5 0.014 0.03
7934.2 0.020 0.03
7935.0 0.005 0.03
7936.1 0.010 0.03
7937.0 -0.010 0.03
7938.2 0.015 0.03
7939.2 -0.058 0.03
7940.4 0.010 0.03
7945.0 -0.018 0.03
7945.7 0.020 0.03
7946.5 0.000 0.03
7947.3 0.030 0.03
7948.2 -0.010 0.03
7949.0 0.015 0.03
7949.7 0.020 0.03
}\rogleI
\pgfplotstableread{
x y e
7843.9 -0.011 0.20
7850.0 -0.006 0.125
7864.9 -0.024 0.095
7867.9 -0.009 0.05
7871.9 -0.036 0.07
7874.8 0.059 0.11
7878.9 0.116 0.085
7893.9 -0.048 0.155
7903.9 0.044 0.12
7906.8 0.034 0.11
7922.7 -0.077 0.16
7925.6 -0.107 0.14
}\rogleV

\newcommand\lcdata{%
  \addplot[dat=kmts] table[x=x,y=y,y error=e]{\kmtsdat};
  \addplot[dat=kmta] table[x=x,y=y,y error=e]{\kmtadat};
  \addplot[dat=kmtc] table[x=x,y=y,y error=e]{\kmtcdat};
  \addplot[dat=ogleI] table[x=x,y=y,y error=e]{\ogleIdat};
  \addplot[dat=ogleV] table[x=x,y=y,y error=e]{\ogleVdat};
}
\newcommand\lcmodel{%
  \addplot[mdl, smooth, tension=0.4] table[x=x,y=y]{\mA};
  \addplot[mdl] table[x=x,y=y]{\mB};
  \addplot[mdl, smooth, tension=0.4] table[x=x,y=y]{\mC};
  \addplot[mdl] table[x=x,y=y]{\mD};
  \addplot[mdl, smooth, tension=0.4] table[x=x,y=y]{\mE};
}

\begin{document}
\begin{tikzpicture}
\useasboundingbox (0,0) rectangle (830bp,747bp);

% top left inset
\begin{axis}[lcframe, at={(113bp,514bp)}, anchor=south west,
  width=302bp, height=204.7bp,
  restrict x to domain=7866:7869,
  xmin=7866.5, xmax=7868.5, ymin=15.3, ymax=18.37, y dir=reverse,
  xtick={7867,7868},
  minor xtick={7866.6,7866.8,7867.2,7867.4,7867.6,7867.8,7868.2,7868.4},
  xticklabel style={yshift=-6bp},
  ytick={16,17,18}, minor ytick={15.4,15.6,...,18.2},
  ylabel={Magnitude},
  ylabel style={at={(axis description cs:-0.184,0.5)}, anchor=center}]
\lcdata
\lcmodel
\end{axis}

% top right inset
\begin{axis}[lcframe, at={(497.7bp,514bp)}, anchor=south west,
  width=301.3bp, height=204.7bp,
  restrict x to domain=7905.5:7907.5,
  xmin=7906, xmax=7907, ymin=15.8, ymax=18.5, y dir=reverse,
  xtick={7906,7906.5},
  minor xtick={7906.125,7906.25,7906.375,7906.625,7906.75,7906.875},
  xticklabel style={yshift=-6bp},
  ytick={16,16.5,17,17.5,18,18.5}, minor ytick={15.9,16,...,18.4}]
\lcdata
\lcmodel
\end{axis}

% main light curve
\begin{axis}[lcframe, at={(113bp,203.4bp)}, anchor=south west,
  width=686bp, height=268.6bp,
  xmin=7830, xmax=7950, ymin=15.6, ymax=18.58, y dir=reverse,
  xtick={7840,7860,...,7940}, minor xtick={7835,7840,...,7945},
  xticklabels={},
  ytick={16,17,18}, minor ytick={15.8,16,...,18.4},
  ylabel={Magnitude},
  ylabel style={at={(axis description cs:-0.081,0.5)}, anchor=center}]
\lcdata
\lcmodel
\node[anchor=west, text=ogleI, font=\fontsize{19}{22}\selectfont] at (axis description cs:0.783,0.876) {OGLE ($I$)};
\node[anchor=west, text=ogleV, font=\fontsize{19}{22}\selectfont] at (axis description cs:0.783,0.775) {OGLE ($V$)};
\node[anchor=west, text=kmtc, font=\fontsize{19}{22}\selectfont] at (axis description cs:0.783,0.674) {KMTC};
\node[anchor=west, text=kmts, font=\fontsize{19}{22}\selectfont] at (axis description cs:0.783,0.573) {KMTS};
\node[anchor=west, text=kmta, font=\fontsize{19}{22}\selectfont] at (axis description cs:0.783,0.472) {KMTA};
\end{axis}

% residuals
\begin{axis}[lcframe, at={(113bp,61bp)}, anchor=south west,
  width=686bp, height=136.7bp,
  xmin=7830, xmax=7950, ymin=-0.25, ymax=0.25,
  xtick={7840,7860,...,7940}, minor xtick={7835,7840,...,7945},
  ytick={-0.2,-0.1,0,0.1,0.2}, minor ytick={-0.24,-0.22,...,0.24},
  xlabel={HJD$-$2450000},
  xlabel style={at={(axis description cs:0.5,-0.30)}, anchor=center},
  ylabel={Residual},
  ylabel style={at={(axis description cs:-0.081,0.5)}, anchor=center}]
\addplot[dat=kmts] table[x=x,y=y,y error=e]{\rkmts};
\addplot[dat=kmta] table[x=x,y=y,y error=e]{\rkmta};
\addplot[dat=kmtc] table[x=x,y=y,y error=e]{\rkmtc};
\addplot[dat=ogleI] table[x=x,y=y,y error=e]{\rogleI};
\addplot[dat=ogleV] table[x=x,y=y,y error=e]{\rogleV};
\addplot[black!80, line width=0.8bp] coordinates {(7830,0) (7950,0)};
\end{axis}
\end{tikzpicture}
\end{document}
